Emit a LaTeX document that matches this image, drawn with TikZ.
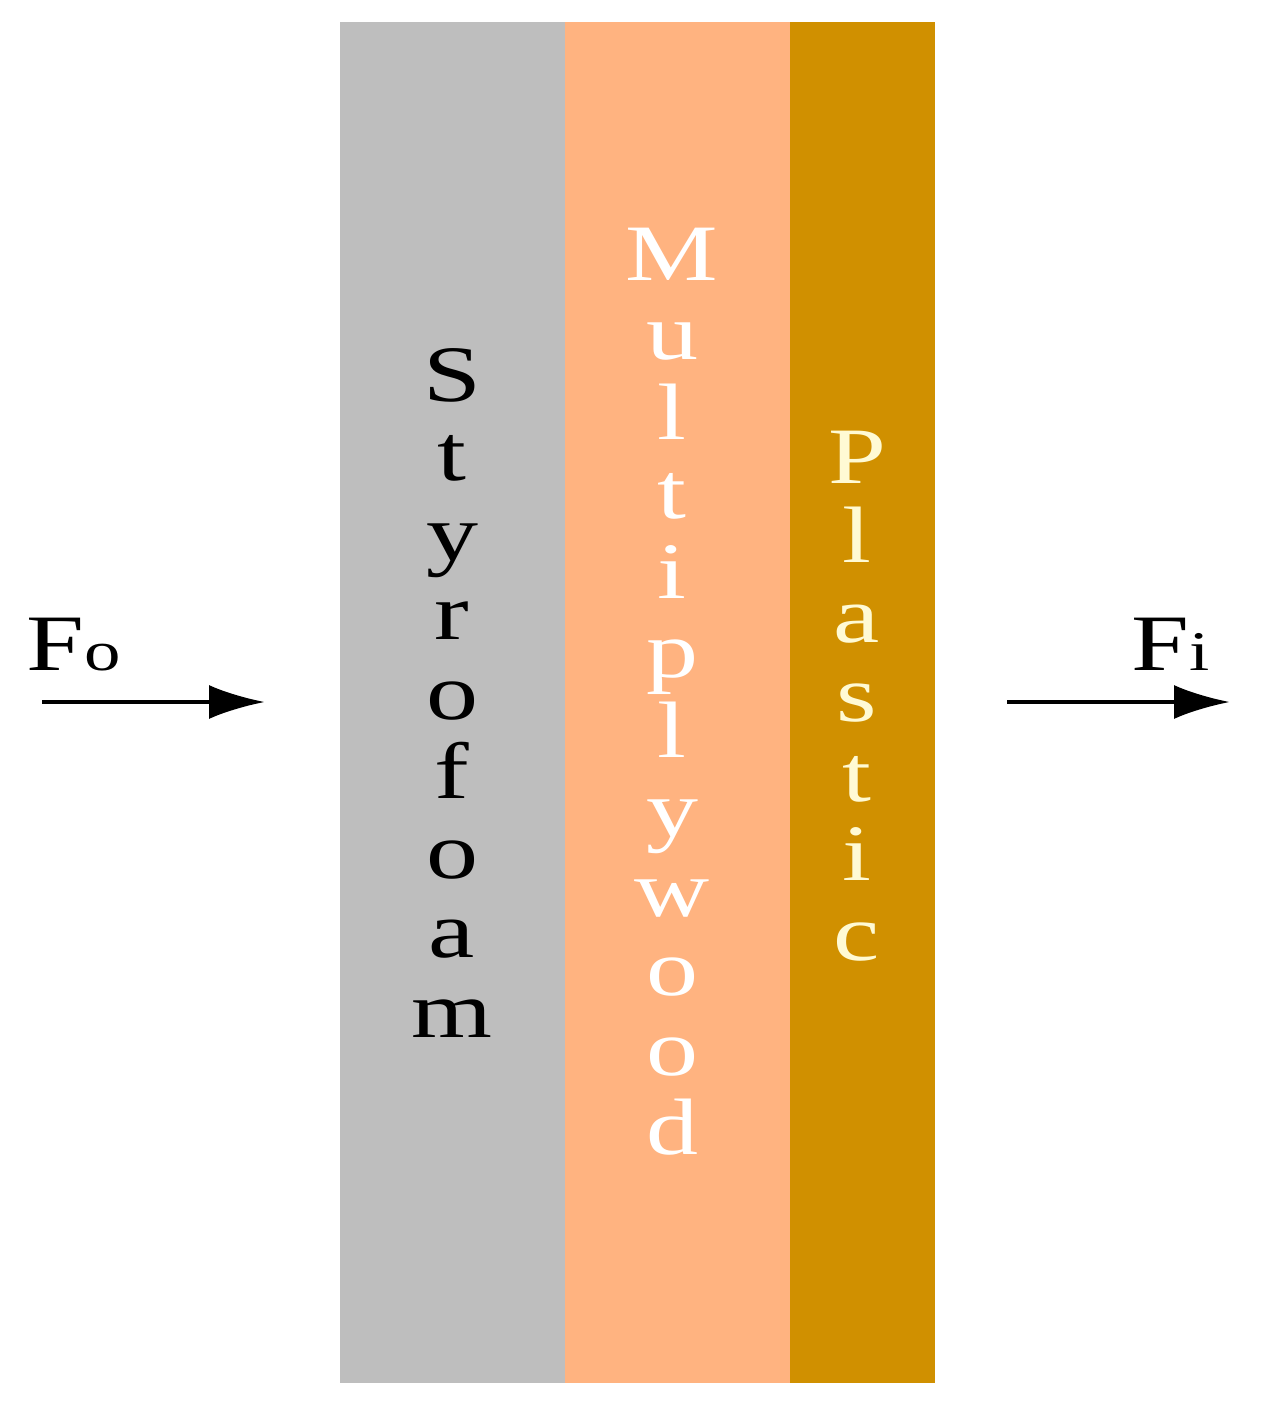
\documentclass[tikz,border=0pt]{standalone}
\usepackage{fontspec}
\setmainfont{Liberation Serif}
\newfontfamily\capafont[FakeStretch=1.3]{Liberation Serif}
\usetikzlibrary{arrows.meta}

\definecolor{gris}{RGB}{190,190,190}
\definecolor{salmon}{RGB}{255,179,128}
\definecolor{ocre}{RGB}{208,144,0}
\definecolor{crema}{RGB}{255,250,212}

\tikzset{
  letra/.style={inner sep=0pt, anchor=base, font=\capafont\fontsize{40}{40}\selectfont},
  flujo/.style={line width=2.2pt, -{Latex[length=28pt,width=17pt]}}
}

\begin{document}
\begin{tikzpicture}[x=0.5pt, y=-0.5pt]
    \useasboundingbox (0,0) rectangle (1266,1415);

    % Capas de la pared
    \fill[gris] (340,22) rectangle (565,1383);
    \fill[salmon] (565,22) rectangle (790,1383);
    \fill[ocre] (790,22) rectangle (935,1383);

    % Nombres de las capas, una letra por renglon
    \foreach \l [count=\i from 0] in {S,t,y,r,o,f,o,a,m}
      \node[letra, text=black] (sty\i) at (452,401+79.5*\i) {\l};
    \foreach \l [count=\i from 0] in {M,u,l,t,i,p,l,y,w,o,o,d}
      \node[letra, text=white] (mul\i) at (672,280+79.5*\i) {\l};
    \foreach \l [count=\i from 0] in {P,l,a,s,t,i,c}
      \node[letra, text=crema] (pla\i) at (857,483+79.5*\i) {\l};

    % Flujos de entrada y salida
    \node[letra, anchor=base west] (fo) at (26,670) {F{\fontsize{28}{28}\selectfont o}};
    \node[letra, anchor=base west] (fi) at (1131,670) {F{\fontsize{28}{28}\selectfont i}};
    \coordinate (fo-ini) at (42,702);
    \coordinate (fo-fin) at (265,702);
    \coordinate (fi-ini) at (1007,702);
    \coordinate (fi-fin) at (1230,702);
    \draw[flujo] (fo-ini) -- (fo-fin);
    \draw[flujo] (fi-ini) -- (fi-fin);

  \end{tikzpicture}
\end{document}
